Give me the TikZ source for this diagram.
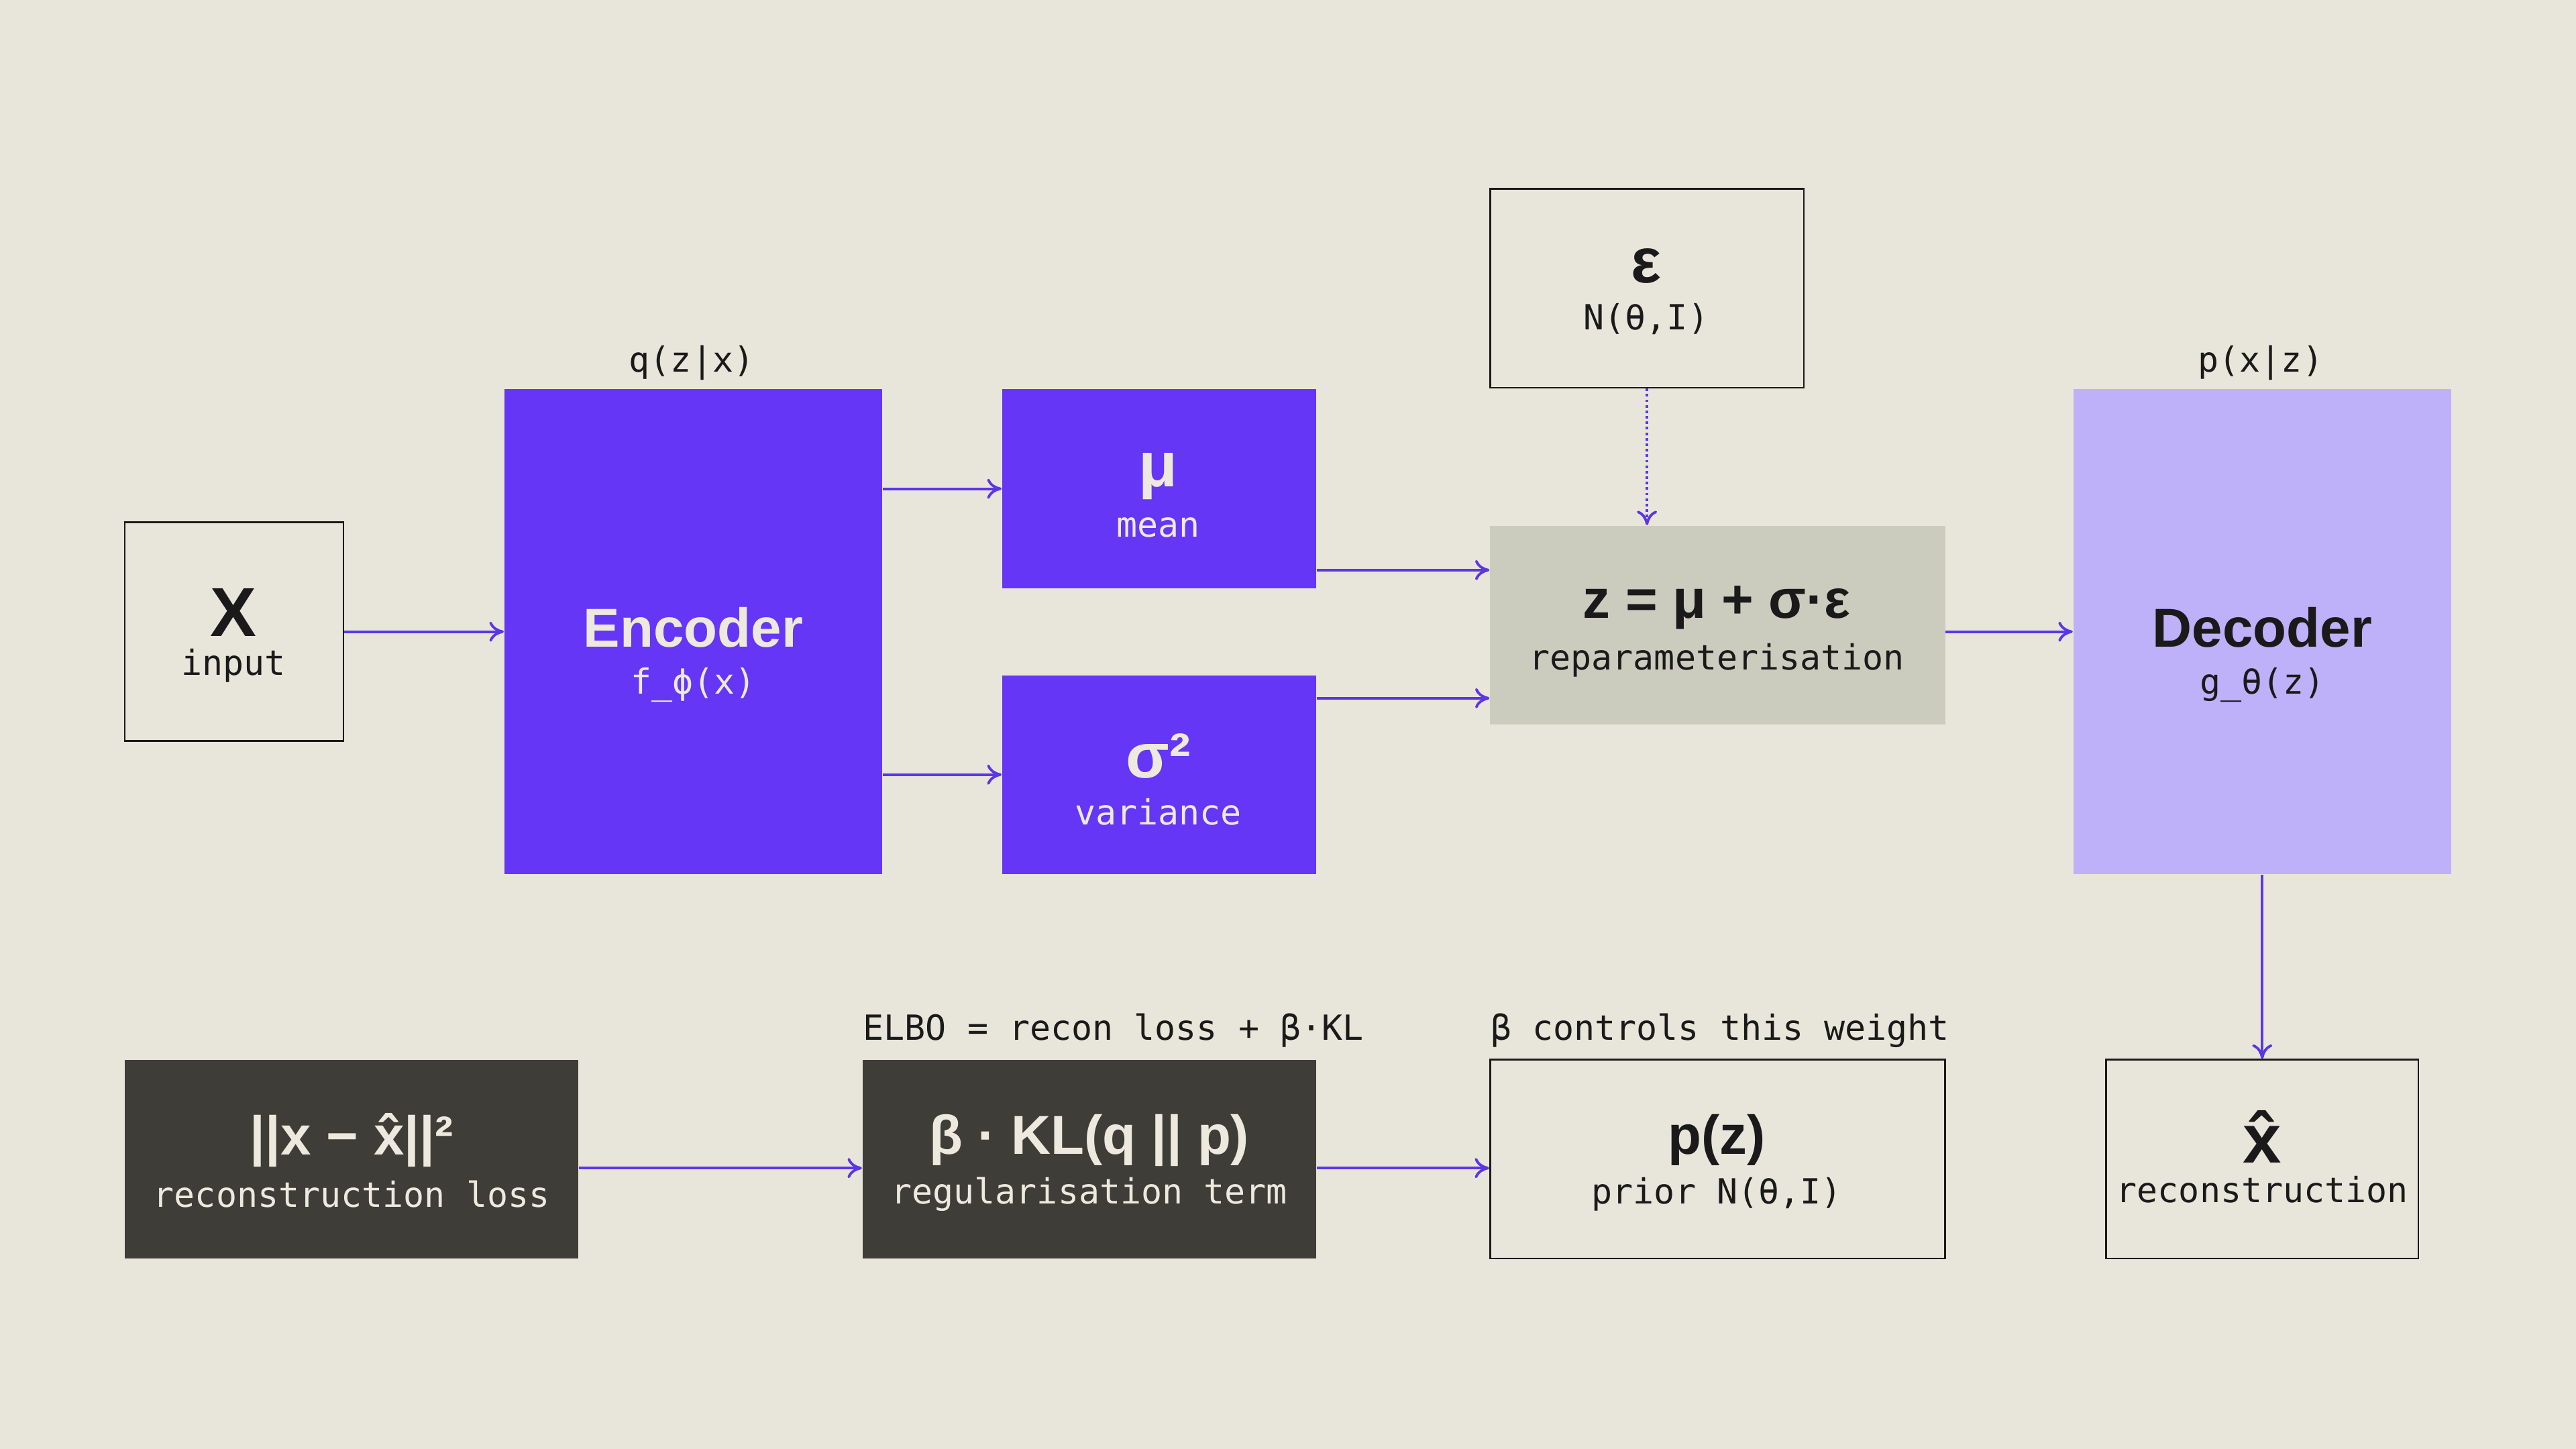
\documentclass[tikz,border=0pt]{standalone}
\usepackage{fontspec}
\setmainfont{Liberation Sans}
\newfontfamily\mono{DejaVu Sans Mono}
\usetikzlibrary{arrows.meta}
\definecolor{bg}{HTML}{E8E6DA}
\definecolor{vio}{HTML}{6536F5}
\definecolor{lav}{HTML}{BFB0FA}
\definecolor{grey}{HTML}{CBCBBE}
\definecolor{dark}{HTML}{3F3D38}
\definecolor{ink}{HTML}{1A1A1A}
\definecolor{lt}{HTML}{EDE9DF}
\definecolor{arr}{HTML}{5B35E8}
\begin{document}
\begin{tikzpicture}[x=0.02cm,y=-0.02cm,
  box/.style={draw=ink,line width=0.6pt,inner sep=0pt},
  fbox/.style={inner sep=0pt},
  big/.style={font=\fontsize{19}{22}\selectfont\bfseries},
  sm/.style={font=\mono\fontsize{12}{13}\selectfont},
  con/.style={draw=arr,line width=0.9pt,-{To[length=5pt,width=7pt]}}]
\fill[bg] (0,0) rectangle (1568,882);
\useasboundingbox (0,0) rectangle (1568,882);
% boxes
\node[box,minimum width=133*0.02cm,minimum height=133*0.02cm] (x) at (142.5,384.5) {};
\node[fbox,fill=vio,minimum width=230*0.02cm,minimum height=295*0.02cm] (enc) at (422,384.5) {};
\node[fbox,fill=vio,minimum width=191*0.02cm,minimum height=121*0.02cm] (mu) at (705.5,297.5) {};
\node[fbox,fill=vio,minimum width=191*0.02cm,minimum height=121*0.02cm] (sig) at (705.5,471.5) {};
\node[box,minimum width=191*0.02cm,minimum height=121*0.02cm] (eps) at (1002.5,175.5) {};
\node[fbox,fill=grey,minimum width=277*0.02cm,minimum height=121*0.02cm] (rep) at (1045.5,380.5) {};
\node[fbox,fill=lav,minimum width=230*0.02cm,minimum height=295*0.02cm] (dec) at (1377,384.5) {};
\node[fbox,fill=dark,minimum width=276*0.02cm,minimum height=121*0.02cm] (rl) at (214,705.5) {};
\node[fbox,fill=dark,minimum width=276*0.02cm,minimum height=121*0.02cm] (kl) at (663,705.5) {};
\node[box,minimum width=277*0.02cm,minimum height=121*0.02cm] (pz) at (1045.5,705.5) {};
\node[box,minimum width=190*0.02cm,minimum height=121*0.02cm] (xh) at (1377,705.5) {};
\coordinate (ya) at (0,711);
% texts
\node[font=\fontsize{24}{26}\selectfont\bfseries,text=ink] (tx) at (142,373) {X};
\node[sm,text=ink] (tx2) at (142,405) {input};
\node[big,text=lt] (te) at (422,382) {Encoder};
\node[sm,text=lt] (te2) at (422,417) {f\_ϕ(x)};
\node[sm,text=ink] (tq) at (421,221) {q(z|x)};
\node[font=\fontsize{22}{24}\selectfont\bfseries,text=lt] (tm) at (705,290) {μ};
\node[sm,text=lt] (tm2) at (705,321) {mean};
\node[font=\fontsize{22}{24}\selectfont\bfseries,text=lt] (ts) at (705,460) {σ²};
\node[sm,text=lt] (ts2) at (705,494) {variance};
\node[font=\fontsize{22}{24}\selectfont\bfseries,text=ink] (tep) at (1002,162) {ε};
\node[sm,text=ink] (tep2) at (1002,194) {N(θ,I)};
\node[big,text=ink] (tr) at (1045,370) {z = μ + σ·ε};
\node[sm,text=ink] (tr2) at (1045,402) {reparameterisation};
\node[big,text=ink] (td) at (1377,382) {Decoder};
\node[sm,text=ink] (td2) at (1377,417) {g\_θ(z)};
\node[sm,text=ink] (tp) at (1376,221) {p(x|z)};
\node[big,text=lt] (trl) at (214,694) {||x − x̂||²};
\node[sm,text=lt] (trl2) at (214,727) {reconstruction loss};
\node[big,text=lt] (tkl) at (663,694) {β · KL(q || p)};
\node[sm,text=lt] (tkl2) at (663,727) {regularisation term};
\node[sm,text=ink,anchor=west,inner sep=0pt] (telbo) at (525,627) {ELBO = recon loss + β·KL};
\node[big,text=ink] (tpz) at (1045,694) {p(z)};
\node[sm,text=ink] (tpz2) at (1045,727) {prior N(θ,I)};
\node[sm,text=ink,anchor=west,inner sep=0pt] (tbeta) at (907,627) {β controls this weight};
\node[font=\fontsize{24}{26}\selectfont\bfseries,text=ink] (txh) at (1377,692) {x̂};
\node[sm,text=ink] (txh2) at (1377,724) {reconstruction};
% connectors
\draw[con] (x.east) -- (enc.west);
\draw[con] (enc.east |- mu) -- (mu.west);
\draw[con] (enc.east |- sig) -- (sig.west);
\draw[con] (mu.east |- 0,347) -- (rep.west |- 0,347);
\draw[con] (sig.east |- 0,425) -- (rep.west |- 0,425);
\draw[con,densely dotted] (eps.south) -- (rep.north -| eps.south);
\draw[con] (rep.east |- dec) -- (dec.west);
\draw[con] (dec.south) -- (xh.north);
\draw[con] (rl.east |- ya) -- (kl.west |- ya);
\draw[con] (kl.east |- ya) -- (pz.west |- ya);
\end{tikzpicture}
\end{document}
